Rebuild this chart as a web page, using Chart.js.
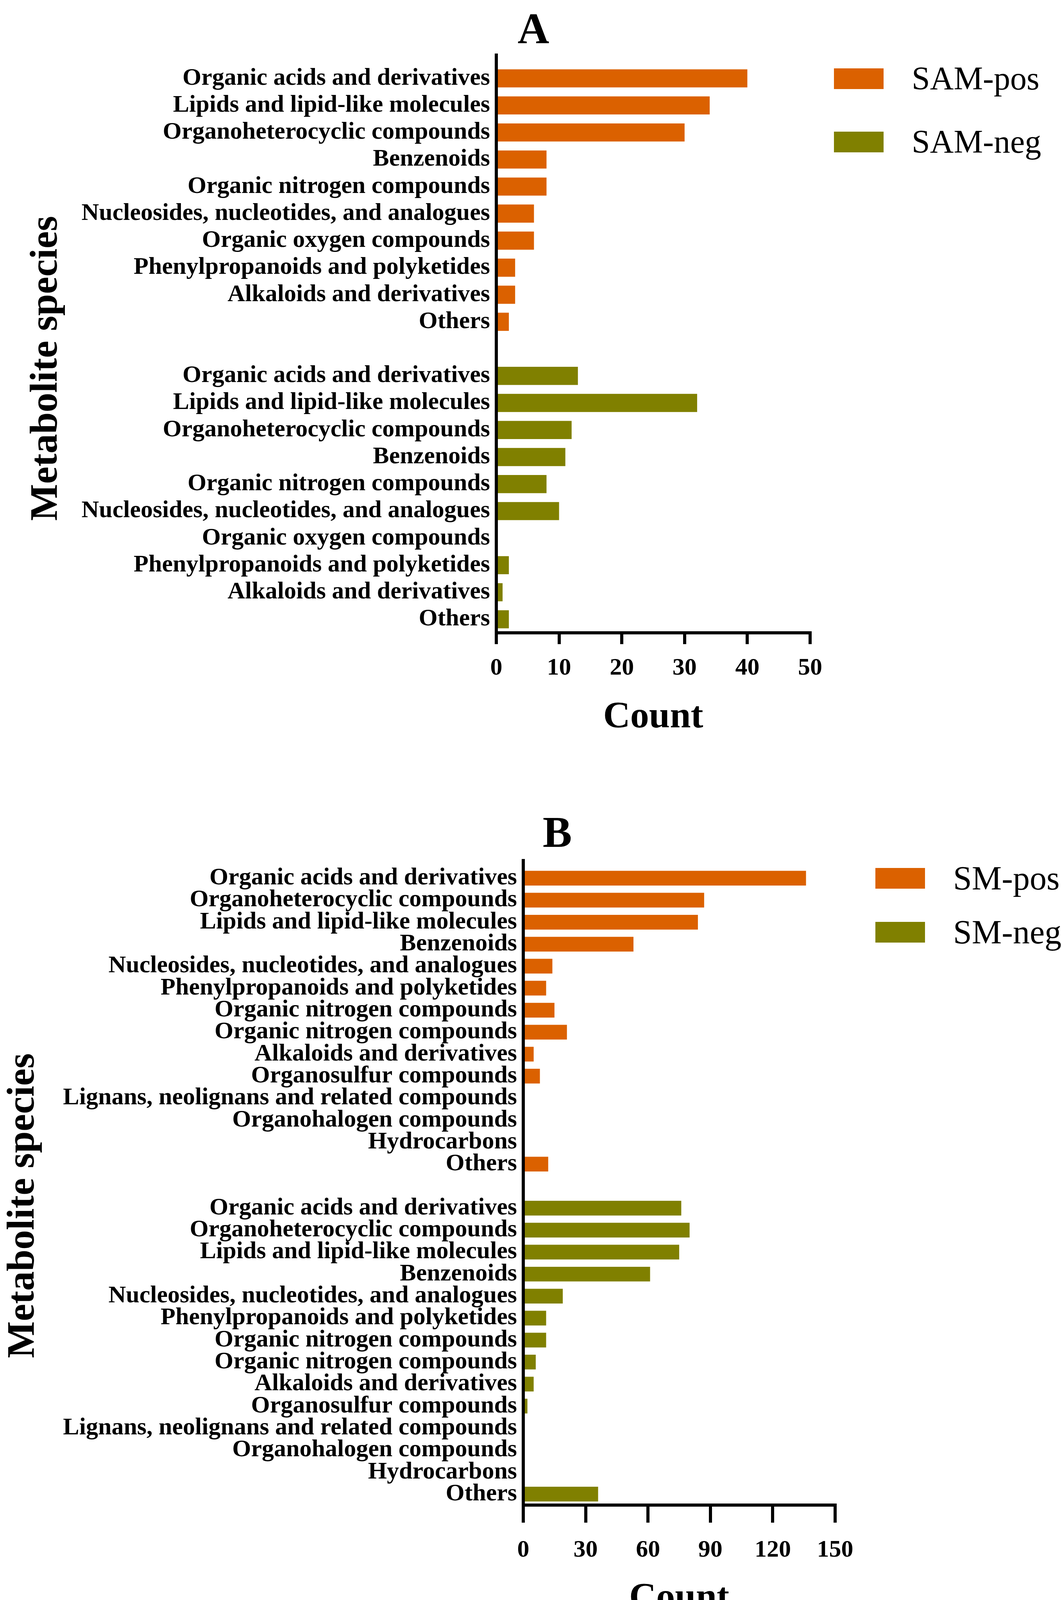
<!DOCTYPE html>
<html>
<head>
<meta charset="utf-8">
<title>Metabolite species</title>
<script src="https://cdn.jsdelivr.net/npm/chart.js@4.4.1/dist/chart.umd.min.js"></script>
<style>
  html, body { margin: 0; padding: 0; background: #fff; }
  #page { position: relative; width: 2715px; height: 4137px; overflow: hidden; background: #fff;
          font-family: 'Liberation Serif', 'Times New Roman', serif; color: #000; }
  canvas { position: absolute; left: 0; }
  .panel-letter { position: absolute; width: 300px; text-align: center; font-weight: bold;
                  font-size: 112px; line-height: 112px; }
  .legend { position: absolute; }
  .legend ul { list-style: none; margin: 0; padding: 0; }
  .legend li { display: flex; align-items: center; }
  .legend .box { display: inline-block; width: 127px; height: 53px; }
  .legend .txt { margin-left: 72px; white-space: nowrap; }
</style>
</head>
<body>
<div id="page">
  <div class="panel-letter" style="left:1215px; top:17px;">A</div>
  <canvas id="chartA" width="2715" height="1920" style="top:0"></canvas>
  <div id="legendA" class="legend" style="left:2134px; top:159px; font-size:84px; line-height:84px;"></div>

  <div class="panel-letter" style="left:1276px; top:2074px;">B</div>
  <canvas id="chartB" width="2715" height="2260" style="top:1920px"></canvas>
  <div id="legendB" class="legend" style="left:2240px; top:2205px; font-size:86px; line-height:86px;"></div>
</div>

<script>
// Podaci - panel A
const kategorijeA = [
  'Organic acids and derivatives',
  'Lipids and lipid-like molecules',
  'Organoheterocyclic compounds',
  'Benzenoids',
  'Organic nitrogen compounds',
  'Nucleosides, nucleotides, and analogues',
  'Organic oxygen compounds',
  'Phenylpropanoids and polyketides',
  'Alkaloids and derivatives',
  'Others'
];
const samPos = [40, 34, 30, 8, 8, 6, 6, 3, 3, 2];
const samNeg = [13, 32, 12, 11, 8, 10, 0, 2, 1, 2];
const ticksA = [0, 10, 20, 30, 40, 50];

// Podaci - panel B
const kategorijeB = [
  'Organic acids and derivatives',
  'Organoheterocyclic compounds',
  'Lipids and lipid-like molecules',
  'Benzenoids',
  'Nucleosides, nucleotides, and analogues',
  'Phenylpropanoids and polyketides',
  'Organic nitrogen compounds',
  'Organic nitrogen compounds',
  'Alkaloids and derivatives',
  'Organosulfur compounds',
  'Lignans, neolignans and related compounds',
  'Organohalogen compounds',
  'Hydrocarbons',
  'Others'
];
const smPos = [136, 87, 84, 53, 14, 11, 15, 21, 5, 8, 0, 0, 0, 12];
const smNeg = [76, 80, 75, 61, 19, 11, 11, 6, 5, 2, 0, 0, 0, 36];
const ticksB = [0, 30, 60, 90, 120, 150];

const NARANCASTA = '#DB6100';
const MASLINASTA = '#808000';
const FONT = "'Liberation Serif', 'Times New Roman', serif";

Chart.defaults.font.family = FONT;
Chart.defaults.color = '#000';

// Legenda kao HTML (napravljena iz datasetova grafa)
const htmlLegenda = {
  id: 'htmlLegenda',
  afterUpdate(chart, args, opts) {
    const box = document.getElementById(opts.containerID);
    box.innerHTML = '';
    const ul = document.createElement('ul');
    const items = chart.options.plugins.legend.labels.generateLabels(chart);
    items.forEach((item, i) => {
      const li = document.createElement('li');
      li.style.height = opts.rowHeight + 'px';
      if (i > 0) li.style.marginTop = opts.gap + 'px';
      const sw = document.createElement('span');
      sw.className = 'box';
      sw.style.background = item.fillStyle;
      const txt = document.createElement('span');
      txt.className = 'txt';
      txt.textContent = item.text;
      li.append(sw, txt);
      ul.appendChild(li);
    });
    box.appendChild(ul);
  }
};

// Y os ide malo iznad prvog stupca
const produziOs = {
  id: 'produziOs',
  afterDraw(chart, args, opts) {
    const {ctx, chartArea} = chart;
    ctx.save();
    ctx.fillStyle = '#000';
    ctx.fillRect(chartArea.left - 4, chartArea.top - opts.gore, 8, opts.gore);
    ctx.restore();
  }
};

function napraviGraf(canvasId, o) {
  const labels = o.kategorije.concat([''], o.kategorije);
  const prazno = o.kategorije.map(() => null);

  return new Chart(document.getElementById(canvasId), {
    type: 'bar',
    data: {
      labels: labels,
      datasets: [
        { label: o.nazivPos, data: o.pos.concat([null], prazno), backgroundColor: NARANCASTA },
        { label: o.nazivNeg, data: prazno.concat([null], o.neg), backgroundColor: MASLINASTA }
      ]
    },
    options: {
      indexAxis: 'y',
      responsive: false,
      animation: false,
      devicePixelRatio: 1,
      layout: { padding: { top: o.padTop, right: o.padRight, left: 0, bottom: 0 } },
      datasets: { bar: { grouped: false, categoryPercentage: 1, barPercentage: 0.67, borderWidth: 0 } },
      plugins: {
        legend: { display: false },
        tooltip: { enabled: false },
        htmlLegenda: { containerID: o.legenda, rowHeight: o.redLegende, gap: o.razmakLegende },
        produziOs: { gore: o.produzi }
      },
      scales: {
        y: {
          type: 'category',
          offset: true,
          grid: { display: false, drawTicks: false },
          border: { display: true, color: '#000', width: 8 },
          ticks: { autoSkip: false, padding: 16, color: '#000', font: { size: 62, weight: 'bold' } },
          title: {
            display: true,
            text: 'Metabolite species    ',
            color: '#000',
            font: { size: 100, weight: 'bold' },
            padding: { top: o.yTitlePad, bottom: 0 }
          },
          afterFit: (s) => { s.width = o.osX; }
        },
        x: {
          type: 'linear',
          min: o.ticks[0],
          max: o.ticks[o.ticks.length - 1],
          afterBuildTicks: (s) => { s.ticks = o.ticks.map(v => ({ value: v })); },
          grid: { display: true, drawOnChartArea: false, drawTicks: true, tickLength: o.tickLen,
                  lineWidth: 8, color: '#000' },
          border: { display: true, color: '#000', width: 8 },
          ticks: { padding: o.tickPad, color: '#000', font: { size: 62, weight: 'bold' } },
          title: {
            display: true,
            text: 'Count',
            color: '#000',
            font: { size: 96, weight: 'bold' },
            padding: { top: 0, bottom: o.countPad }
          },
          afterFit: (s) => { s.height = o.visinaX; }
        }
      }
    },
    plugins: [htmlLegenda, produziOs]
  });
}

napraviGraf('chartA', {
  kategorije: kategorijeA, pos: samPos, neg: samNeg, ticks: ticksA,
  nazivPos: 'SAM-pos', nazivNeg: 'SAM-neg', legenda: 'legendA', redLegende: 84, razmakLegende: 78,
  padTop: 166, padRight: 642, osX: 1270, visinaX: 300, yTitlePad: 59,
  tickLen: 29, tickPad: 25, countPad: 25, produzi: 29
});

napraviGraf('chartB', {
  kategorije: kategorijeB, pos: smPos, neg: smNeg, ticks: ticksB,
  nazivPos: 'SM-pos', nazivNeg: 'SM-neg', legenda: 'legendB', redLegende: 86, razmakLegende: 52,
  padTop: 300, padRight: 578, osX: 1339, visinaX: 327, yTitlePad: 0,
  tickLen: 45, tickPad: 34, countPad: 29, produzi: 21
});
</script>
</body>
</html>
